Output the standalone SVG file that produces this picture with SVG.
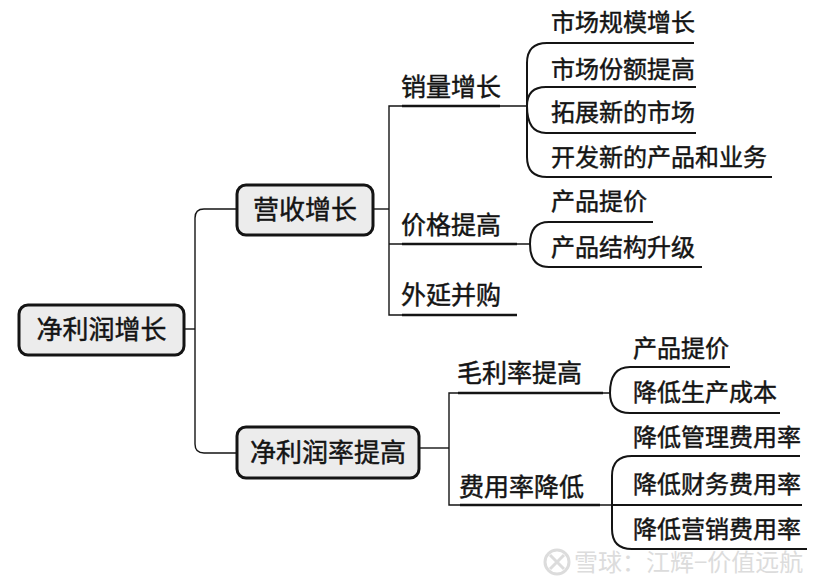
<svg xmlns="http://www.w3.org/2000/svg" width="820" height="587" viewBox="0 0 820 587">
<style>
text{font-family:"Noto Sans CJK SC","Noto Sans CJK JP",sans-serif;fill:#141414;stroke:#141414;stroke-width:0.45}
.box{fill:#ececec;stroke:#141414;stroke-width:3}
.bt{font-size:26px}
.l2{font-size:25px}
.l3{font-size:24px}
.c{fill:none;stroke:#141414;stroke-width:1.4}
.u{fill:none;stroke:#141414;stroke-width:2.6}
.cu{fill:none;stroke:#141414;stroke-width:2}
.wm{fill:#dcdcdc;stroke:none;font-size:24px}
</style>
<rect width="820" height="587" fill="#ffffff"/>
<g id="connectors">
<path class="c" d="M184 329 H195"/>
<path class="c" d="M237 209 H204 Q195 209 195 218 V444 Q195 453 204 453 H237"/>
<path class="c" d="M373 209 H389"/>
<path class="c" d="M527 106 H389 V315 H402"/>
<path class="c" d="M389 244 H530"/>
<path class="c" d="M419 448 H449"/>
<path class="c" d="M610 393 H449 V505 H612"/>
<path class="cu" d="M527 106 V63 Q527 43 547 43 H694"/>
<path class="cu" d="M527 106 Q527 87 546 87 H696"/>
<path class="cu" d="M527 106 Q527 133 546 133 H696"/>
<path class="cu" d="M527 106 V157 Q527 177 547 177 H772"/>
<path class="cu" d="M530 244 Q530 222 549 222 H653"/>
<path class="cu" d="M530 244 Q530 267 549 267 H702"/>
<path class="cu" d="M610 393 Q610 367 630 367 H730"/>
<path class="cu" d="M610 393 Q610 413 630 413 H780"/>
<path class="cu" d="M612 505 V476 Q612 456 632 456 H800"/>
<path class="cu" d="M612 505 H802"/>
<path class="cu" d="M612 505 V529 Q612 549 632 549 H807"/>
</g>
<g id="n-root"><rect class="box" x="19" y="305" width="165" height="50" rx="9"/><text class="bt" x="101.5" y="339" text-anchor="middle">净利润增长</text></g>
<g id="n-revenue"><rect class="box" x="237" y="185" width="136" height="50" rx="9"/><text class="bt" x="305" y="219" text-anchor="middle">营收增长</text></g>
<g id="n-margin"><rect class="box" x="237" y="427" width="182" height="51" rx="9"/><text class="bt" x="328" y="462" text-anchor="middle">净利润率提高</text></g>
<g id="n-volume"><text class="l2" x="401" y="96">销量增长</text><path class="u" d="M402 106 H500"/></g>
<g id="n-price"><text class="l2" x="401" y="234">价格提高</text><path class="u" d="M402 244 H517"/></g>
<g id="n-mna"><text class="l2" x="401" y="304">外延并购</text><path class="u" d="M402 315 H517"/></g>
<g id="n-gross"><text class="l2" x="457" y="382">毛利率提高</text><path class="u" d="M458 393 H603"/></g>
<g id="n-expense"><text class="l2" x="459" y="496">费用率降低</text><path class="u" d="M460 505 H600"/></g>
<g id="n-v1"><text class="l3" x="551" y="31">市场规模增长</text></g>
<g id="n-v2"><text class="l3" x="551" y="78">市场份额提高</text></g>
<g id="n-v3"><text class="l3" x="551" y="121">拓展新的市场</text></g>
<g id="n-v4"><text class="l3" x="551" y="166">开发新的产品和业务</text></g>
<g id="n-p1"><text class="l3" x="551" y="210">产品提价</text></g>
<g id="n-p2"><text class="l3" x="551" y="256">产品结构升级</text></g>
<g id="n-g1"><text class="l3" x="633" y="357">产品提价</text></g>
<g id="n-g2"><text class="l3" x="633" y="401">降低生产成本</text></g>
<g id="n-e1"><text class="l3" x="633" y="446">降低管理费用率</text></g>
<g id="n-e2"><text class="l3" x="633" y="493">降低财务费用率</text></g>
<g id="n-e3"><text class="l3" x="633" y="538">降低营销费用率</text></g>
<g id="watermark">
<circle cx="557" cy="562" r="12" fill="none" stroke="#dcdcdc" stroke-width="3"/>
<path d="M550 555 L564 569 M564 555 L550 569" stroke="#dcdcdc" stroke-width="3"/>
<text class="wm" x="574" y="571">雪球：江辉−价值远航</text>
</g>
</svg>
